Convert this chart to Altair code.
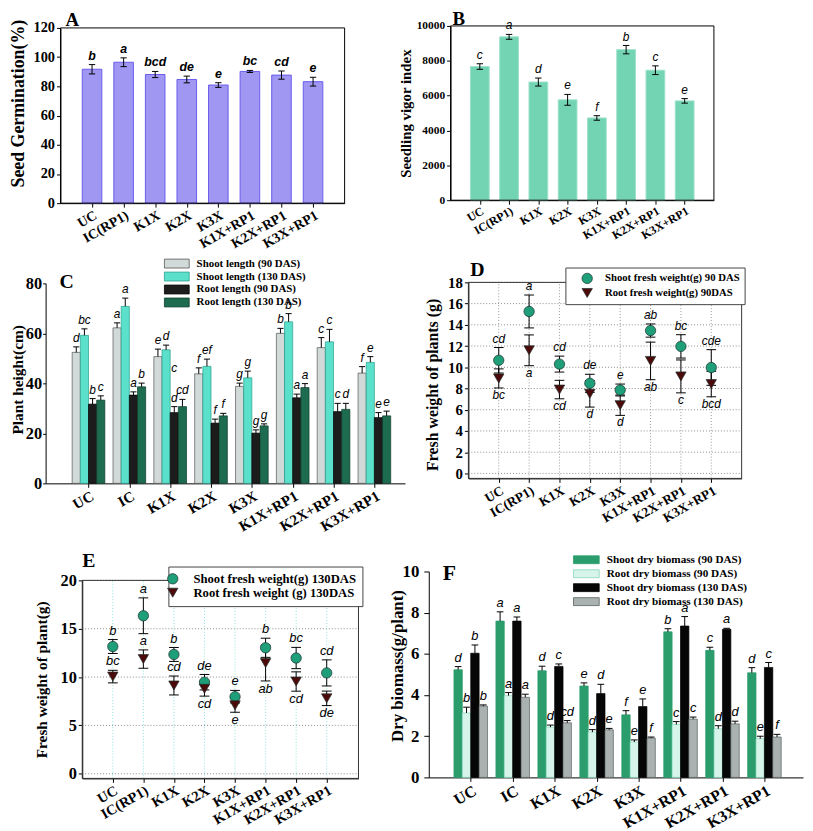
import json
import altair as alt
import pandas as pd

SERIF = "Liberation Serif"
SANS = "Liberation Sans"
W, H = 805, 823

# ---------------- data ----------------
cats_seed = ["UC", "IC(RP1)", "K1X", "K2X", "K3X", "K1X+RP1", "K2X+RP1", "K3X+RP1"]
cats_plant = ["UC", "IC", "K1X", "K2X", "K3X", "K1X+RP1", "K2X+RP1", "K3X+RP1"]

germ_vals = [91.7, 96.5, 88.1, 84.7, 80.9, 90.2, 87.7, 83.2]
germ_err = [3.2, 3.0, 2.1, 2.3, 1.6, 0.7, 2.8, 3.0]
germ_let = ["b", "a", "bcd", "de", "e", "bc", "cd", "e"]

vigor_vals = [7670, 9375, 6780, 5760, 4720, 8640, 7460, 5700]
vigor_err = [160, 140, 230, 310, 130, 240, 250, 130]
vigor_let = ["c", "a", "d", "e", "f", "b", "c", "e"]

length_series = ["Shoot length (90 DAS)", "Shoot length (130 DAS)",
                 "Root length (90 DAS)", "Root length (130 DAS)"]
length_vals = [
    [52.4, 62.2, 50.7, 43.8, 38.8, 60.0, 54.3, 44.1],
    [59.2, 70.8, 53.4, 46.8, 42.2, 64.6, 56.6, 48.4],
    [31.7, 35.3, 28.3, 24.1, 20.1, 34.2, 28.7, 26.3],
    [33.3, 38.6, 30.7, 27.0, 23.0, 38.3, 29.6, 27.0],
]
length_err = [
    [2.2, 2.0, 3.0, 2.4, 1.3, 2.0, 4.0, 2.6],
    [2.6, 3.3, 1.9, 2.9, 2.7, 3.3, 5.0, 2.3],
    [2.2, 1.3, 2.4, 1.6, 1.3, 1.5, 3.3, 2.0],
    [1.7, 1.5, 2.9, 1.0, 0.8, 1.6, 2.4, 1.9],
]
length_let = [
    ["d", "a", "e", "f", "g", "b", "c", "f"],
    ["bc", "a", "d", "ef", "g", "b", "c", "e"],
    ["b", "a", "d", "f", "g", "a", "c", "e"],
    ["c", "b", "cd", "f", "g", "a", "d", "e"],
]
length_extra_cat = [2]
length_extra_series = [2]
length_extra_val = [46.0]
length_extra_let = ["c"]

fw90_series = ["Shoot fresh weight(g) 90 DAS", "Root fresh weight(g) 90DAS"]
fw90_vals = [[10.66, 15.26, 10.3, 8.49, 7.86, 13.46, 11.97, 9.98],
             [8.95, 11.6, 7.9, 7.5, 6.43, 10.6, 9.14, 8.42]]
fw90_err = [[1.2, 1.55, 0.75, 0.85, 0.56, 0.62, 1.1, 1.68],
            [0.9, 1.45, 0.87, 1.25, 0.96, 1.77, 1.55, 1.2]]
fw90_let = [["cd", "a", "cd", "de", "e", "ab", "bc", "cde"],
            ["bc", "a", "cd", "d", "d", "ab", "c", "bcd"]]
fw90_side = [["above"] * 8, ["below"] * 8]

fw130_series = ["Shoot fresh weight(g) 130DAS", "Root fresh weight (g) 130DAS"]
fw130_vals = [[13.16, 16.34, 12.34, 9.47, 7.97, 13.03, 11.97, 10.43],
              [10.05, 11.86, 9.13, 8.79, 7.08, 11.45, 9.54, 7.8]]
fw130_err = [[0.72, 1.85, 0.72, 0.8, 0.65, 0.99, 1.1, 1.35],
             [0.65, 0.95, 0.98, 0.76, 0.72, 1.85, 1.0, 0.75]]
fw130_let = [["b", "a", "b", "de", "e", "b", "bc", "cd"],
             ["bc", "a", "cd", "cd", "e", "ab", "cd", "de"]]
fw130_side = [["above"] * 8,
              ["above", "above", "above", "below", "below", "below", "below", "below"]]

dry_series = ["Shoot dry biomass (90 DAS)", "Root dry biomass (90 DAS)",
              "Shoot dry biomass (130 DAS)", "Root dry biomass (130 DAS)"]
dry_vals = [
    [5.23, 7.59, 5.18, 4.44, 3.04, 7.07, 6.17, 5.08],
    [3.13, 3.97, 2.44, 2.2, 1.72, 2.57, 2.36, 1.88],
    [6.03, 7.59, 5.39, 4.07, 3.44, 7.35, 7.19, 5.34],
    [3.46, 3.89, 2.65, 2.31, 1.91, 2.83, 2.6, 1.96],
]
dry_err = [
    [0.15, 0.45, 0.22, 0.15, 0.2, 0.15, 0.15, 0.25],
    [0.28, 0.15, 0.1, 0.12, 0.1, 0.14, 0.15, 0.12],
    [0.4, 0.2, 0.12, 0.45, 0.37, 0.46, 0.05, 0.24],
    [0.06, 0.15, 0.11, 0.07, 0.05, 0.1, 0.13, 0.13],
]
dry_let = [
    ["d", "a", "d", "e", "f", "b", "c", "d"],
    ["b", "a", "d", "d", "e", "c", "d", "e"],
    ["b", "a", "c", "d", "e", "a", "a", "c"],
    ["b", "a", "cd", "e", "f", "c", "d", "f"],
]

# ---------------- helpers ----------------
layers = []


def sc(dom, rng):
    return alt.Scale(domain=dom, range=rng, nice=False, zero=False)


def x_axis(cats, y_px, fs):
    return alt.Axis(orient="bottom", offset=y_px - H, values=list(range(len(cats))),
                    labelExpr=json.dumps(cats) + "[datum.value]", labelAngle=-30,
                    labelFontSize=fs, tickSize=4, labelPadding=1, title=None, grid=False)


def y_axis(x_px, ticks, fs, title, tfs, tpad, ty=None, tick=4, lpad=2):
    kw = dict(orient="left", offset=-x_px, values=ticks, labelFontSize=fs, title=title,
              titleFontSize=tfs, titlePadding=tpad, tickSize=tick, labelPadding=lpad,
              format="d", grid=False)
    if ty is not None:
        kw["titleY"] = ty
    return alt.Axis(**kw)


def frame(xs, ys, xd, yd, color="black"):
    layers.append(alt.Chart(pd.DataFrame({"k": [0]})).mark_rect(
        fillOpacity=0, stroke=color, strokeWidth=1).encode(
        x=alt.X(datum=xd[0], scale=xs, axis=None), x2=alt.X2(datum=xd[1]),
        y=alt.Y(datum=yd[0], scale=ys, axis=None), y2=alt.Y2(datum=yd[1])))


def panel_letter(txt, xs, ys, xd, yd, dx, dy, fs=20):
    layers.append(alt.Chart(pd.DataFrame({"t": [txt]})).mark_text(
        font=SERIF, fontWeight="bold", fontSize=fs, align="left", baseline="alphabetic",
        dx=dx, dy=dy, color="black").encode(
        x=alt.X(datum=xd[0], scale=xs, axis=None),
        y=alt.Y(datum=yd[1], scale=ys, axis=None), text="t:N"))


def simple_bars(cats, vals, errs, lets, xs, ys, xax, yax, fill, stroke, hw, cw, lfs, lweight):
    df = pd.DataFrame({"i": list(range(len(cats))), "v": vals, "e": errs, "lab": lets})
    base = alt.Chart(df).transform_calculate(
        xl=f"datum.i - {hw}", xr=f"datum.i + {hw}",
        lo="datum.v - datum.e", hi="datum.v + datum.e",
        cl=f"datum.i - {cw}", cr=f"datum.i + {cw}", zero="0")
    layers.append(base.mark_rect(fill=fill, stroke=stroke, strokeWidth=1).encode(
        x=alt.X("xl:Q", scale=xs, axis=xax), x2="xr:Q",
        y=alt.Y("v:Q", scale=ys, axis=yax), y2="zero:Q"))
    layers.append(base.mark_rule(color="black", strokeWidth=1).encode(
        x=alt.X("i:Q", scale=xs, axis=None),
        y=alt.Y("lo:Q", scale=ys, axis=None), y2="hi:Q"))
    for f in ["lo", "hi"]:
        layers.append(base.mark_rule(color="black", strokeWidth=1).encode(
            x=alt.X("cl:Q", scale=xs, axis=None), x2="cr:Q",
            y=alt.Y(f + ":Q", scale=ys, axis=None)))
    layers.append(base.mark_text(font=SANS, fontStyle="italic", fontWeight=lweight,
                                 fontSize=lfs, baseline="bottom", dy=-2, color="black").encode(
        x=alt.X("i:Q", scale=xs, axis=None), y=alt.Y("hi:Q", scale=ys, axis=None),
        text="lab:N"))


def grouped_bars(cats, series, vals, errs, lets, xs, ys, xax, yax, fills, strokes,
                 legend, cw, lfs, sw=0.7):
    rows = []
    for s, name in enumerate(series):
        for i in range(len(cats)):
            rows.append(dict(i=i, s=s, series=name, v=vals[s][i], e=errs[s][i], lab=lets[s][i]))
    df = pd.DataFrame(rows)
    base = alt.Chart(df).transform_calculate(
        xc="datum.i + (datum.s - 1.5) * 0.2", xl="datum.xc - 0.1", xr="datum.xc + 0.1",
        hi="datum.v + datum.e", cl=f"datum.xc - {cw}", cr=f"datum.xc + {cw}", zero="0")
    layers.append(base.mark_rect(strokeWidth=sw).encode(
        x=alt.X("xl:Q", scale=xs, axis=xax), x2="xr:Q",
        y=alt.Y("v:Q", scale=ys, axis=yax), y2="zero:Q",
        color=alt.Color("series:N", scale=alt.Scale(domain=series, range=fills), legend=legend),
        stroke=alt.Stroke("series:N", scale=alt.Scale(domain=series, range=strokes), legend=None)))
    layers.append(base.mark_rule(color="black", strokeWidth=1).encode(
        x=alt.X("xc:Q", scale=xs, axis=None),
        y=alt.Y("v:Q", scale=ys, axis=None), y2="hi:Q"))
    layers.append(base.mark_rule(color="black", strokeWidth=1).encode(
        x=alt.X("cl:Q", scale=xs, axis=None), x2="cr:Q",
        y=alt.Y("hi:Q", scale=ys, axis=None)))
    layers.append(base.mark_text(font=SANS, fontStyle="italic", fontSize=lfs,
                                 baseline="bottom", dy=-2, color="black").encode(
        x=alt.X("xc:Q", scale=xs, axis=None), y=alt.Y("hi:Q", scale=ys, axis=None),
        text="lab:N"))


def scatter(cats, series, vals, errs, lets, sides, xs, ys, xax, yax, colors, legend,
            cw, lfs, xd, yd, yticks, vgrid_color):
    layers.append(alt.Chart(pd.DataFrame({"t": yticks})).mark_rule(
        color="#8c8c8c", strokeDash=[1, 2], strokeWidth=1).encode(
        y=alt.Y("t:Q", scale=ys, axis=None),
        x=alt.X(datum=xd[0], scale=xs, axis=None), x2=alt.X2(datum=xd[1])))
    layers.append(alt.Chart(pd.DataFrame({"t": list(range(len(cats)))})).mark_rule(
        color=vgrid_color, strokeDash=[1, 2], strokeWidth=1).encode(
        x=alt.X("t:Q", scale=xs, axis=None),
        y=alt.Y(datum=yd[0], scale=ys, axis=None), y2=alt.Y2(datum=yd[1])))
    rows = []
    for s, name in enumerate(series):
        for i in range(len(cats)):
            rows.append(dict(i=i, s=s, series=name, v=vals[s][i], e=errs[s][i],
                             lab=lets[s][i], side=sides[s][i]))
    df = pd.DataFrame(rows)
    base = alt.Chart(df).transform_calculate(
        lo="datum.v - datum.e", hi="datum.v + datum.e",
        cl=f"datum.i - {cw}", cr=f"datum.i + {cw}")
    layers.append(base.mark_rule(color="black", strokeWidth=1).encode(
        x=alt.X("i:Q", scale=xs, axis=None),
        y=alt.Y("lo:Q", scale=ys, axis=None), y2="hi:Q"))
    for f in ["lo", "hi"]:
        layers.append(base.mark_rule(color="black", strokeWidth=1).encode(
            x=alt.X("cl:Q", scale=xs, axis=None), x2="cr:Q",
            y=alt.Y(f + ":Q", scale=ys, axis=None)))
    layers.append(base.mark_point(filled=True, size=110, opacity=1, stroke="#1b2f2a",
                                  strokeWidth=0.7).encode(
        x=alt.X("i:Q", scale=xs, axis=xax), y=alt.Y("v:Q", scale=ys, axis=yax),
        color=alt.Color("series:N", scale=alt.Scale(domain=series, range=colors), legend=legend),
        shape=alt.Shape("series:N", scale=alt.Scale(domain=series, range=["circle", "triangle-down"]),
                        legend=legend)))
    layers.append(base.transform_filter("datum.side == 'above'").mark_text(
        font=SANS, fontStyle="italic", fontSize=lfs, baseline="bottom", dy=-2, color="black").encode(
        x=alt.X("i:Q", scale=xs, axis=None), y=alt.Y("hi:Q", scale=ys, axis=None), text="lab:N"))
    layers.append(base.transform_filter("datum.side == 'below'").mark_text(
        font=SANS, fontStyle="italic", fontSize=lfs, baseline="top", dy=2, color="black").encode(
        x=alt.X("i:Q", scale=xs, axis=None), y=alt.Y("lo:Q", scale=ys, axis=None), text="lab:N"))


def bar_legend(x, y, path, size, fs, loff, rowpad):
    return alt.Legend(title=None, orient="none", legendX=x, legendY=y, direction="vertical",
                      symbolType=path, symbolSize=size, symbolStrokeColor="#222",
                      symbolStrokeWidth=0.8, labelFont=SERIF, labelFontWeight="bold",
                      labelFontSize=fs, labelColor="black", labelOffset=loff,
                      rowPadding=rowpad, padding=0, labelLimit=400)


def point_legend(x, y, fs, pad, soff, loff, rowpad):
    return alt.Legend(title=None, orient="none", legendX=x, legendY=y, direction="vertical",
                      strokeColor="#444", fillColor="white", padding=pad, symbolOffset=soff,
                      labelOffset=loff, symbolSize=110, symbolStrokeColor="#1b2f2a",
                      symbolStrokeWidth=0.7, labelFont=SERIF, labelFontWeight="bold",
                      labelFontSize=fs, labelColor="black", rowPadding=rowpad, labelLimit=400)


# ---------------- Panel A ----------------
xdA, xrA, ydA, yrA = [-1, 8], [53, 340], [0, 120], [193, 16]
xsA, ysA = sc(xdA, xrA), sc(ydA, yrA)
simple_bars(cats_seed, germ_vals, germ_err, germ_let, xsA, ysA,
            x_axis(cats_seed, yrA[0], 14),
            y_axis(xrA[0], [0, 20, 40, 60, 80, 100, 120], 14.5, "Seed Germination(%)", 18, 6, ty=92),
            "#9f97f1", "#6a5cee", 0.31, 0.1, 12.5, "bold")
frame(xsA, ysA, xdA, ydA)
panel_letter("A", xsA, ysA, xdA, ydA, 5, -2, fs=19)

# ---------------- Panel B ----------------
xdB, xrB, ydB, yrB = [-1, 8], [447, 713], [0, 10000], [190, 14]
xsB, ysB = sc(xdB, xrB), sc(ydB, yrB)
simple_bars(cats_seed, vigor_vals, vigor_err, vigor_let, xsB, ysB,
            x_axis(cats_seed, yrB[0], 12),
            y_axis(xrB[0], [0, 2000, 4000, 6000, 8000, 10000], 11.5, "Seedling vigor index", 15, 3),
            "#72d4b2", "#9be2c9", 0.32, 0.11, 12, "normal")
frame(xsB, ysB, xdB, ydB)
panel_letter("B", xsB, ysB, xdB, ydB, 2, -1, fs=19)

# ---------------- Panel C ----------------
xdC, xrC, ydC, yrC = [-1.05, 7.75], [38, 401], [0, 80], [476, 274]
xsC, ysC = sc(xdC, xrC), sc(ydC, yrC)
grouped_bars(cats_plant, length_series, length_vals, length_err, length_let, xsC, ysC,
             x_axis(cats_plant, yrC[0], 15),
             y_axis(xrC[0], [0, 20, 40, 60, 80], 16.5, "Plant height(cm)", 15.5, 0, ty=371,
                    tick=3, lpad=1),
             ["#d2d9d9", "#5be0cb", "#1c1c1c", "#1d6c4f"],
             ["#555555", "#2a9f8c", "#000000", "#0d3b2a"],
             bar_legend(165, 248.5, "M-2.78,-1H2.78V1H-2.78Z", 81, 11, 14.5, 0.1),
             0.075, 12)
extra = pd.DataFrame({"i": length_extra_cat, "s": length_extra_series,
                      "v": length_extra_val, "lab": length_extra_let})
layers.append(alt.Chart(extra).transform_calculate(
    xc="datum.i + (datum.s - 1.5) * 0.2").mark_text(
    font=SANS, fontStyle="italic", fontSize=12, baseline="middle", color="black").encode(
    x=alt.X("xc:Q", scale=xsC, axis=None), y=alt.Y("v:Q", scale=ysC, axis=None), text="lab:N"))
panel_letter("C", xsC, ysC, xdC, ydC, 14, 5)

# ---------------- Panel D ----------------
xdD, xrD, ydD, yrD = [-1, 8], [465, 741], [-0.47, 18], [471, 273]
xsD, ysD = sc(xdD, xrD), sc(ydD, yrD)
scatter(cats_seed, fw90_series, fw90_vals, fw90_err, fw90_let, fw90_side, xsD, ysD,
        x_axis(cats_seed, yrD[0], 13.5),
        y_axis(xrD[0], list(range(0, 19, 2)), 15, "Fresh weight of plants (g)", 16, 7, ty=376),
        ["#1f9e7a", "#4d0a0a"],
        point_legend(563, 258, 10.8, 5, 11, 12, 1.7),
        0.16, 12, xdD, ydD, list(range(0, 19, 2)), "#9a9a9a")
frame(xsD, ysD, xdD, ydD, "#333333")
panel_letter("D", xsD, ysD, xdD, ydD, 2, -6)

# ---------------- Panel E ----------------
xdE, xrE, ydE, yrE = [-1, 8.04], [75, 354], [-0.48, 20], [774, 574]
xsE, ysE = sc(xdE, xrE), sc(ydE, yrE)
scatter(cats_seed, fw130_series, fw130_vals, fw130_err, fw130_let, fw130_side, xsE, ysE,
        x_axis(cats_seed, yrE[0], 14.5),
        y_axis(xrE[0], [0, 5, 10, 15, 20], 16.5, "Fresh weight of plant(g)", 15.5, 10.5),
        ["#1f9e7a", "#4d0a0a"],
        point_legend(162, 560, 12.8, 6, -8, 14.5, 0),
        0.16, 13, xdE, ydE, [0, 5, 10, 15, 20], "#8fe3de")
frame(xsE, ysE, xdE, ydE, "#333333")
panel_letter("E", xsE, ysE, xdE, ydE, 0, -14)

# ---------------- Panel F ----------------
xdF, xrF, ydF, yrF = [-1, 7.92], [425, 803], [0, 10], [773, 565]
xsF, ysF = sc(xdF, xrF), sc(ydF, yrF)
grouped_bars(cats_plant, dry_series, dry_vals, dry_err, dry_let, xsF, ysF,
             x_axis(cats_plant, yrF[0], 16),
             y_axis(xrF[0], [0, 2, 4, 6, 8, 10], 17, "Dry biomass(g/plant)", 17, -4, ty=660,
                    tick=5, lpad=5),
             ["#2b9d6d", "#d6f4e9", "#060606", "#a9b1b1"],
             ["#2b9d6d", "#86d9bb", "#000000", "#5a6060"],
             bar_legend(578.5, 547.5, "M-3.25,-1H3.25V1H-3.25Z", 64, 11.3, 15, 1.1),
             0.08, 13)
panel_letter("F", xsF, ysF, xdF, ydF, 14, 9, fs=22)

chart = alt.layer(*layers).resolve_scale(
    x="independent", y="independent", color="independent", shape="independent",
    stroke="independent").resolve_axis(x="independent", y="independent").resolve_legend(
    color="independent", shape="independent", stroke="independent").properties(
    width=W, height=H, padding=0, autosize=alt.AutoSizeParams(type="none")
).configure_view(stroke=None).configure_axis(
    labelFont=SERIF, titleFont=SERIF, labelFontWeight="bold", titleFontWeight="bold",
    labelColor="black", titleColor="black", domainColor="black", tickColor="black",
    labelOverlap=False, labelFlush=False, domainWidth=1)

chart.save("out.html", embed_options={"renderer": "svg", "actions": False})
